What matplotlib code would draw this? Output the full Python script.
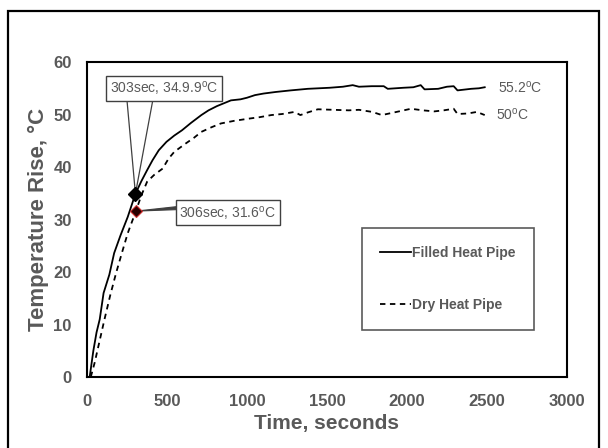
import numpy as np
import matplotlib.pyplot as plt
from matplotlib.patches import Rectangle

plt.rcParams['font.family'] = ['Liberation Sans', 'DejaVu Sans']
plt.rcParams['mathtext.fontset'] = 'custom'
plt.rcParams['mathtext.rm'] = 'Liberation Sans'

GRAY = '#595959'

# filled heat pipe (time s, temperature rise C)
filled_t = [17, 40, 60, 80, 104, 140, 170, 210, 255, 303, 340, 376, 410, 449, 497, 546, 594,
            650, 715, 760, 812, 860, 900, 960, 1000, 1050, 1104, 1180, 1273, 1380, 1516,
            1600, 1661, 1700, 1780, 1855, 1880, 1977, 2040, 2086, 2110, 2195, 2250, 2292,
            2316, 2401, 2450, 2486]
filled_y = [0, 5, 8.5, 11, 16, 19.5, 23.6, 27, 30.5, 34.9, 37.3, 39.4, 41.3, 43.2, 44.8, 46.0,
            47.0, 48.4, 49.9, 50.8, 51.6, 52.2, 52.7, 52.9, 53.2, 53.7, 54.0, 54.3, 54.6,
            54.9, 55.1, 55.3, 55.6, 55.3, 55.4, 55.4, 54.9, 55.1, 55.2, 55.6, 54.8, 54.9,
            55.3, 55.4, 54.6, 54.9, 55.0, 55.2]

# dry heat pipe
dry_t = [24, 48, 80, 109, 145, 182, 220, 255, 306, 340, 376, 420, 473, 510, 546, 618, 670,
         715, 780, 837, 920, 1007, 1080, 1152, 1220, 1297, 1334, 1380, 1443, 1540, 1637,
         1700, 1783, 1843, 1920, 2025, 2100, 2171, 2230, 2292, 2316, 2380, 2437, 2486]
dry_y = [0, 2.7, 7, 10.9, 15.5, 19.8, 23.8, 27.4, 31.6, 34.6, 37.2, 38.5, 39.7, 41.6, 42.9,
         44.5, 45.6, 46.7, 47.6, 48.3, 48.8, 49.2, 49.5, 49.9, 50.1, 50.5, 49.9, 50.4, 51.0,
         50.9, 50.8, 50.9, 50.5, 49.9, 50.4, 51.1, 50.8, 50.6, 50.8, 51.1, 50.1, 50.2,
         50.5, 49.9]

# highlighted points
mark_filled = (303, 34.9)
mark_dry = (306, 31.6)
label_filled = '303sec, 34.9.9$^{\\mathrm{o}}$C'
label_dry = '306sec, 31.6$^{\\mathrm{o}}$C'
end_filled = '55.2$^{\\mathrm{o}}$C'
end_dry = '50$^{\\mathrm{o}}$C'

fig = plt.figure(figsize=(6.08, 4.48), dpi=100)
ax = fig.add_axes([0.143, 0.1585, 0.7895, 0.703])

ax.plot(filled_t, filled_y, color='black', lw=1.3, label='Filled Heat Pipe')
ax.plot(dry_t, dry_y, color='black', lw=1.3, ls=(0, (3, 2.5)), label='Dry Heat Pipe')

ax.set_xlim(0, 3000)
ax.set_ylim(0, 60)
ax.set_xticks(np.arange(0, 3001, 500))
ax.set_yticks(np.arange(0, 61, 10))
ax.tick_params(length=0, labelsize=12, labelcolor=GRAY)
ax.tick_params(axis='x', pad=12)
ax.tick_params(axis='y', pad=11)
for lab in ax.get_xticklabels() + ax.get_yticklabels():
    lab.set_fontweight('bold')
for s in ax.spines.values():
    s.set_linewidth(1.5)
    s.set_color('black')

ax.set_xlabel('Time, seconds', fontsize=15, fontweight='bold', color=GRAY, labelpad=4)
ax.set_ylabel('Temperature Rise, °C', fontsize=16, fontweight='bold', color=GRAY, labelpad=3)

# callout 1
box = dict(boxstyle='square,pad=0.25', fc='white', ec='#404040', lw=1)
ax.text(481, 55.05, label_filled, fontsize=10, color=GRAY, ha='center', va='center',
        bbox=box, zorder=5)
for bx in (250, 412):
    ax.plot([bx, mark_filled[0]], [52.8, mark_filled[1]], color='#404040', lw=0.9, zorder=4)
ax.plot(*mark_filled, marker='D', ms=7, color='black', zorder=6)

# callout 2
ax.text(881, 31.3, label_dry, fontsize=10, color=GRAY, ha='center', va='center',
        bbox=box, zorder=5)
ax.fill([575, mark_dry[0], 575], [32.5, mark_dry[1], 31.9], color='#404040', lw=0.8, zorder=4)
ax.plot(*mark_dry, marker='D', ms=6.5, mfc='#2a0000', mec='#d03030', mew=0.8, zorder=6)

# end labels
ax.text(2569, 55.1, end_filled, fontsize=10, color=GRAY, ha='left', va='center')
ax.text(2556, 50.0, end_dry, fontsize=10, color=GRAY, ha='left', va='center')

leg = ax.legend(loc='upper left', bbox_to_anchor=(0.573, 0.473), frameon=True,
                fancybox=False, edgecolor='#303030', fontsize=10, labelspacing=2.7,
                borderpad=1.3, handlelength=2.2, handletextpad=0.1, borderaxespad=0)
leg.get_frame().set_linewidth(1.2)
for t in leg.get_texts():
    t.set_color(GRAY)
    t.set_fontweight('bold')

# outer chart border
fig.patches.append(Rectangle((0.0132, -0.02), 0.972, 0.9954, transform=fig.transFigure,
                             fill=False, ec='black', lw=1.6))

fig.savefig('out.png', dpi=100)
